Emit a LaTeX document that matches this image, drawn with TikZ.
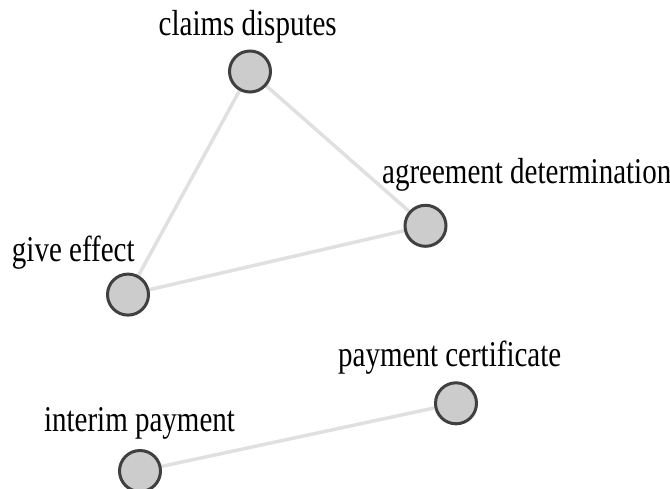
\documentclass[tikz,border=0pt]{standalone}
\usepackage{fontspec}
\setmainfont{Liberation Serif}
\usetikzlibrary{backgrounds}
\definecolor{vfill}{HTML}{CCCCCC}
\definecolor{vline}{HTML}{404040}
\definecolor{elink}{HTML}{E0E0E0}
\newcommand{\lbltext}[1]{\scalebox{1}[1.25]{#1}}
\begin{document}
\begin{tikzpicture}[x=1pt,y=-1pt,
  vertex/.style={circle,draw=vline,fill=vfill,line width=3pt,minimum size=41pt,inner sep=0pt},
  vlabel/.style={anchor=base,inner sep=0pt,font=\fontsize{29}{34}\selectfont},
  link/.style={draw=elink,line width=3.5pt}]
  \useasboundingbox (0,0) rectangle (670,488);
  % vertices
  \node[vertex] (cd) at (250,71.5) {};
  \node[vertex] (ad) at (425.5,225.8) {};
  \node[vertex] (ge) at (128,294.6) {};
  \node[vertex] (pc) at (456,403.3) {};
  \node[vertex] (ip) at (140,471) {};
  % labels
  \node[vlabel] (lcd) at (247.7,35) {\lbltext{claims disputes}};
  \node[vlabel] (lad) at (526.7,183.3) {\lbltext{agreement determination}};
  \node[vlabel] (lge) at (73.3,261) {\lbltext{give effect}};
  \node[vlabel] (lpc) at (449.7,366) {\lbltext{payment certificate}};
  \node[vlabel] (lip) at (139.5,431.7) {\lbltext{interim payment}};
  % links
  \begin{scope}[on background layer]
    \draw[link] (cd.center) -- (ad.center);
    \draw[link] (cd.center) -- (ge.center);
    \draw[link] (ge.center) -- (ad.center);
    \draw[link] (ip.center) -- (pc.center);
  \end{scope}
\end{tikzpicture}
\end{document}
